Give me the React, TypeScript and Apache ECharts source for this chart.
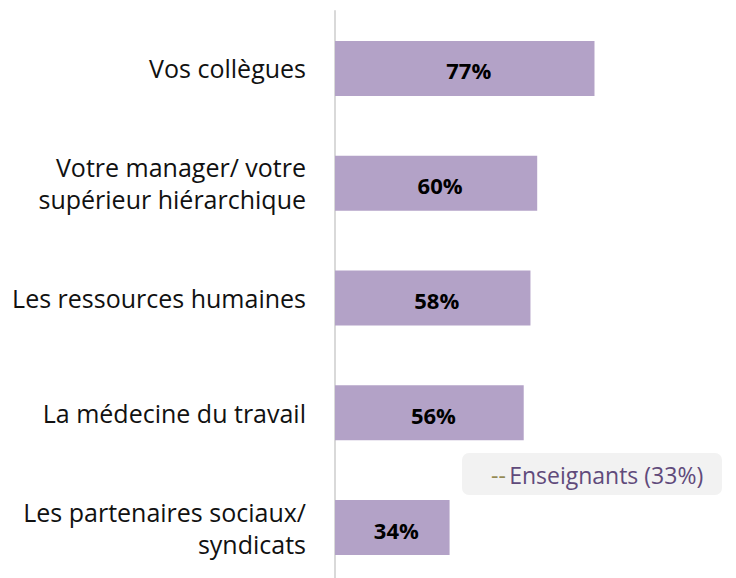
import React, { useEffect, useRef } from "react";
import * as echarts from "echarts";

const categories = [
  "Vos collègues",
  "Votre manager/ votre\nsupérieur hiérarchique",
  "Les ressources humaines",
  "La médecine du travail",
  "Les partenaires sociaux/\nsyndicats",
];
const values = [77, 60, 58, 56, 34];
const noteText = "Enseignants (33%)";

export default function App() {
  const ref = useRef<HTMLDivElement>(null);
  useEffect(() => {
    if (!ref.current) return;
    const chart = echarts.init(ref.current, null, { renderer: "svg" });
    chart.setOption({
      animation: false,
      grid: { left: 335, top: 11, width: 337, height: 574, containLabel: false },
      xAxis: {
        type: "value",
        min: 0,
        max: 100,
        show: false,
      },
      yAxis: {
        type: "category",
        inverse: true,
        data: categories,
        axisLine: { show: true, lineStyle: { color: "#d9d9d9", width: 2 } },
        axisTick: { show: false },
        splitLine: { show: false },
        axisLabel: {
          margin: 29,
          fontFamily: "Open Sans",
          fontSize: 25,
          color: "#111111",
          lineHeight: 32,
          align: "right",
        },
      },
      series: [
        {
          type: "bar",
          data: values,
          barWidth: 55,
          itemStyle: { color: "#b3a2c7" },
          label: {
            show: true,
            position: "inside",
            formatter: "{c}%",
            fontFamily: "Open Sans",
            fontWeight: "bold",
            fontSize: 22,
            color: "#000000",
            offset: [4, 2],
          },
        },
      ],
      graphic: [
        {
          type: "rect",
          left: 462,
          top: 453,
          shape: { width: 260, height: 42, r: 7 },
          style: { fill: "#f2f2f2" },
        },
        {
          type: "text",
          x: 491,
          y: 475,
          style: {
            text: "{a|--} {b|" + noteText + "}",
            verticalAlign: "middle",
            rich: {
              a: { fill: "#948a54", fontSize: 23, fontFamily: "Open Sans" },
              b: { fill: "#604a7b", fontSize: 23, fontFamily: "Open Sans" },
            },
          },
        },
      ],
    });
    return () => chart.dispose();
  }, []);
  return (
    <div style={{ position: "absolute", left: 0, top: 0, width: 736, height: 578, overflow: "hidden" }}>
      <div ref={ref} style={{ width: 736, height: 592 }} />
    </div>
  );
}
